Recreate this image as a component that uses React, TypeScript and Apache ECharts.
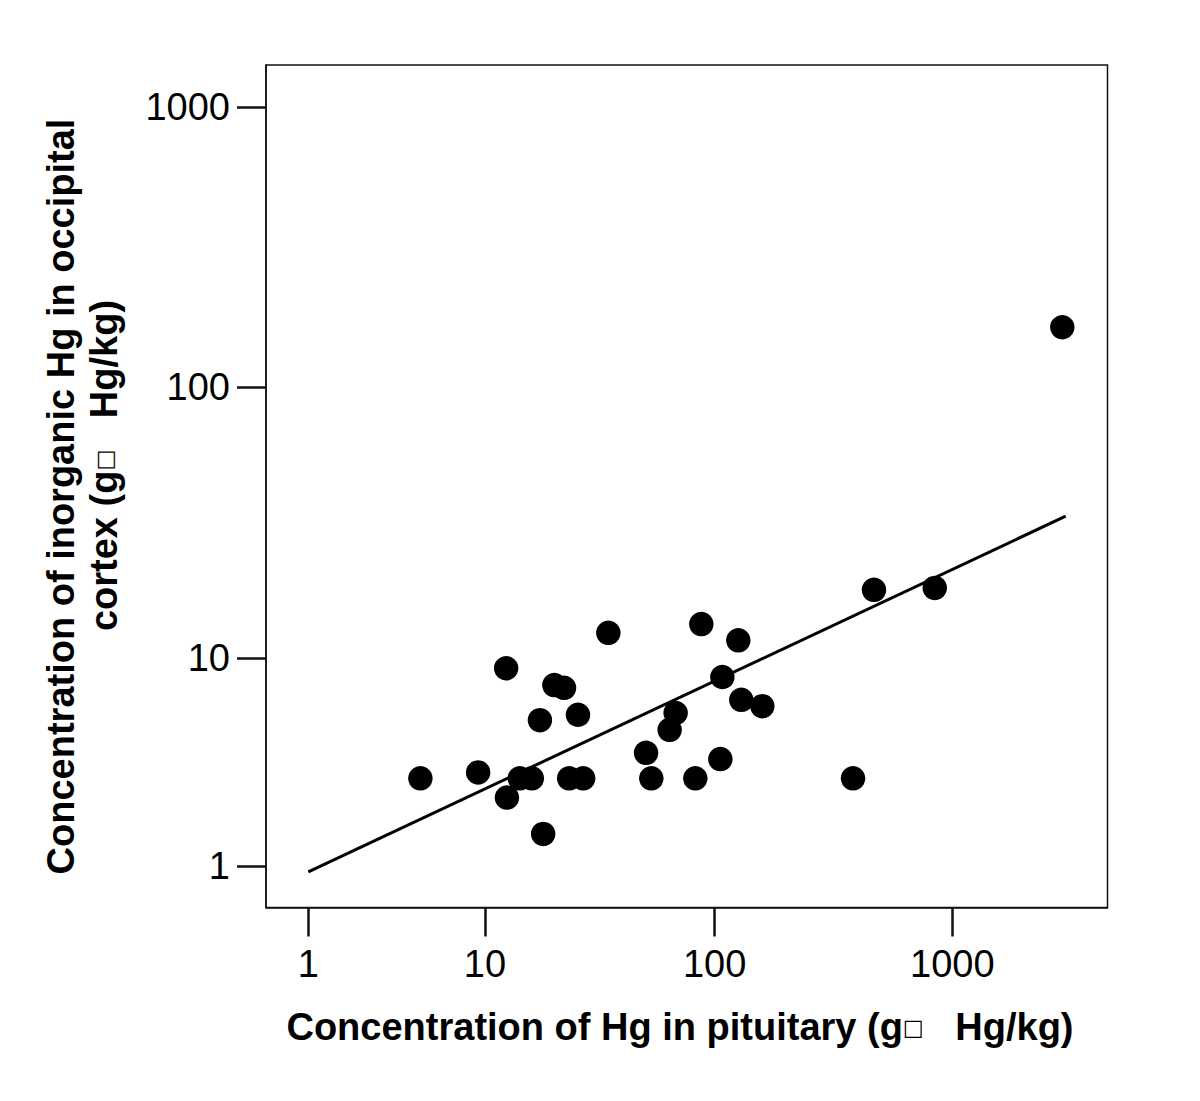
import React, { useEffect, useRef } from "react";
import * as echarts from "echarts";

// Concentration of Hg in pituitary (µg Hg/kg)
const pituitaryHg = [
  4.9, 9.3, 12.5, 12.6, 14.4, 16.3, 17.7, 18.3, 20.5, 22.6, 23.8, 26.0, 27.4, 35.2,
  51.1, 53.8, 64.4, 68.3, 82.8, 87.8, 105.7, 107.8, 125.9, 129.6, 159, 383, 469, 844, 2893,
];
// Concentration of inorganic Hg in occipital cortex (µg Hg/kg)
const cortexHg = [
  3.1, 3.3, 9.1, 2.5, 3.1, 3.1, 5.6, 1.6, 7.8, 7.6, 3.1, 5.9, 3.1, 12.5,
  4.05, 3.1, 5.1, 6.0, 3.1, 13.5, 3.8, 8.4, 11.7, 6.8, 6.4, 3.1, 18.2, 18.5, 164,
];
// Fitted regression line end points
const fitX = [1, 2990];
const fitY = [0.905, 34.1];
// Tick labels (axes are log10(value + 1) scaled)
const xTicks = [1, 10, 100, 1000];
const yTicks = [1, 10, 100, 1000];

const xTitle = "Concentration of Hg in pituitary (g{b|□}   Hg/kg)";
const yTitleLine1 = "Concentration of inorganic Hg in occipital";
const yTitleLine2 = "cortex (g{b|□}   Hg/kg)";

const t = (v: number) => Math.log10(v + 1);
const inv = (v: number) => String(Math.round(Math.pow(10, v) - 1));

export default function App() {
  const ref = useRef<HTMLDivElement>(null);
  useEffect(() => {
    if (!ref.current) return;
    const chart = echarts.init(ref.current, undefined, { renderer: "svg" });
    const font = "'Liberation Sans', Arial, Helvetica, sans-serif";
    const rich = {
      b: { fontSize: 22, color: "#999", fontWeight: "normal" as const, fontFamily: "'DejaVu Sans'" },
    };
    chart.setOption({
      animation: false,
      backgroundColor: "#fff",
      grid: {
        left: 266,
        top: 65,
        width: 841.5,
        height: 842.5,
        show: true,
        borderColor: "#111",
        borderWidth: 1.5,
      },
      xAxis: {
        type: "value",
        min: 0.1237,
        max: 3.651,
        axisLine: { show: true, lineStyle: { color: "#111", width: 1.5 } },
        axisTick: {
          show: true,
          length: 29,
          inside: false,
          customValues: xTicks.map(t),
          lineStyle: { color: "#111", width: 2.5 },
        },
        axisLabel: {
          show: true,
          customValues: xTicks.map(t),
          formatter: (v: number) => inv(v),
          fontSize: 38,
          fontFamily: font,
          color: "#000",
          margin: 37,
        },
        splitLine: { show: false },
      },
      yAxis: {
        type: "value",
        min: 0.1531,
        max: 3.1505,
        axisLine: { show: true, lineStyle: { color: "#111", width: 1.5 } },
        axisTick: {
          show: true,
          length: 29,
          inside: false,
          customValues: yTicks.map(t),
          lineStyle: { color: "#111", width: 2.5 },
        },
        axisLabel: {
          show: true,
          customValues: yTicks.map(t),
          formatter: (v: number) => inv(v),
          fontSize: 38,
          fontFamily: font,
          color: "#000",
          margin: 36,
        },
        splitLine: { show: false },
      },
      graphic: [
        {
          type: "text",
          x: 680,
          y: 1027,
          style: {
            text: xTitle,
            rich,
            font: `bold 38px ${font}`,
            fill: "#000",
            align: "center",
            verticalAlign: "middle",
          },
        },
        {
          type: "text",
          x: 61,
          y: 496.5,
          rotation: Math.PI / 2,
          style: {
            text: yTitleLine1,
            font: `bold 38px ${font}`,
            fill: "#000",
            align: "center",
            verticalAlign: "middle",
          },
        },
        {
          type: "text",
          x: 104,
          y: 465.5,
          rotation: Math.PI / 2,
          style: {
            text: yTitleLine2,
            rich,
            font: `bold 38px ${font}`,
            fill: "#000",
            align: "center",
            verticalAlign: "middle",
          },
        },
      ],
      series: [
        {
          type: "line",
          data: fitX.map((x, i) => [t(x), t(fitY[i])]),
          symbol: "none",
          lineStyle: { color: "#000", width: 3 },
          silent: true,
        },
        {
          type: "scatter",
          data: pituitaryHg.map((x, i) => [t(x), t(cortexHg[i])]),
          symbol: "circle",
          symbolSize: 24.5,
          itemStyle: { color: "#000", opacity: 1 },
        },
      ],
    });
    return () => chart.dispose();
  }, []);
  return (
    <div
      ref={ref}
      style={{ position: "absolute", left: 0, top: 0, width: 1200, height: 1101, background: "#fff" }}
    />
  );
}
